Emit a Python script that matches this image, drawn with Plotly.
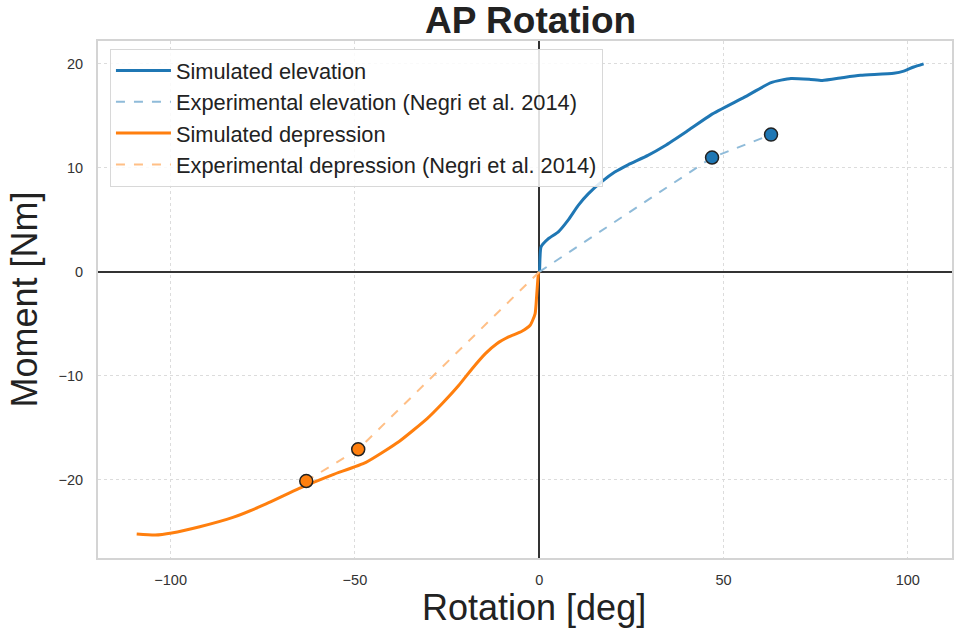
import plotly.graph_objects as go

# Simulated elevation (blue)
elev_x = [0, 0.1, 0.5, 2.5, 5.2, 7.9, 10.6, 13.3, 16.9, 20.5, 24.1, 29.5, 34.0, 40.0, 46.6, 55.7, 62.9, 68.3, 73.7, 76.8, 82.7, 87.2, 96.2, 98.9, 101.6, 104.3]
elev_y = [0, 0.2, 2.4, 3.2, 3.85, 5.0, 6.4, 7.5, 8.65, 9.6, 10.3, 11.2, 12.1, 13.5, 15.1, 16.8, 18.2, 18.6, 18.5, 18.4, 18.7, 18.9, 19.1, 19.3, 19.7, 20.0]

# Simulated depression (orange)
dep_x = [-109.2, -104.2, -99.7, -92.1, -83.1, -74.1, -65.1, -56.1, -47.0, -38.0, -30.4, -26.3, -21.8, -18.2, -14.6, -11.5, -8.3, -4.7, -2.4, -1.1, -0.65, -0.2, 0]
dep_y = [-25.2, -25.3, -25.1, -24.5, -23.6, -22.3, -20.8, -19.5, -18.3, -16.3, -14.1, -12.65, -10.9, -9.3, -7.85, -6.9, -6.25, -5.7, -5.1, -4.0, -2.1, -0.15, 0]

# Experimental (Negri et al. 2014)
exp_elev_x = [0, 46.9, 62.9]
exp_elev_y = [0, 11.0, 13.2]
exp_dep_x = [0, -49.1, -63.2]
exp_dep_y = [0, -17.05, -20.1]

BLUE = "#1f77b4"
ORANGE = "#ff7f0e"
BLUE_L = "#8fbbd9"
ORANGE_L = "#ffbf86"

fig = go.Figure()
fig.add_trace(go.Scatter(x=elev_x, y=elev_y, mode="lines", name="Simulated elevation",
                         line=dict(color=BLUE, width=3, shape="spline", smoothing=0.5), legendgroup="a"))
fig.add_trace(go.Scatter(x=exp_elev_x, y=exp_elev_y, mode="lines", name="Experimental elevation (Negri et al. 2014)",
                         line=dict(color=BLUE_L, width=2, dash="dash"), legendgroup="b"))
fig.add_trace(go.Scatter(x=dep_x, y=dep_y, mode="lines", name="Simulated depression",
                         line=dict(color=ORANGE, width=3, shape="spline", smoothing=0.5), legendgroup="c"))
fig.add_trace(go.Scatter(x=exp_dep_x, y=exp_dep_y, mode="lines", name="Experimental depression (Negri et al. 2014)",
                         line=dict(color=ORANGE_L, width=2, dash="dash"), legendgroup="d"))
fig.add_trace(go.Scatter(x=exp_elev_x[1:], y=exp_elev_y[1:], mode="markers", showlegend=False,
                         marker=dict(color=BLUE, size=13, line=dict(color="#222", width=1.5))))
fig.add_trace(go.Scatter(x=exp_dep_x[1:], y=exp_dep_y[1:], mode="markers", showlegend=False,
                         marker=dict(color=ORANGE, size=13, line=dict(color="#222", width=1.5))))

axis_common = dict(
    showline=True, mirror=True, linecolor="#d4d4d4", linewidth=2,
    showgrid=True, gridcolor="#dcdcdc", griddash="dot", gridwidth=1,
    zeroline=True, zerolinecolor="#333333", zerolinewidth=1.5,
    ticks="", tickfont=dict(size=14.5, color="#333333"),
)

fig.update_layout(
    width=956, height=635,
    margin=dict(l=98, r=2, t=41, b=77),
    paper_bgcolor="white", plot_bgcolor="white",
    font=dict(family="Liberation Sans, Arial, sans-serif", color="#222"),
    title=dict(text="<b>AP Rotation</b>", x=0.555, xanchor="center", y=0.9685, yanchor="middle",
               font=dict(size=37, color="#222")),
    xaxis=dict(range=[-119.7, 112], tickvals=[-100, -50, 0, 50, 100],
               ticktext=["\u2212100", "\u221250", "0", "50", "100"],
               ticklabelstandoff=8,
               **axis_common),
    yaxis=dict(range=[-27.5, 22.2], tickvals=[-20, -10, 0, 10, 20],
               ticktext=["\u221220", "\u221210", "0", "10", "20"],
               ticklabelstandoff=10,
               title=dict(text="Moment [Nm]", font=dict(size=36, color="#222"), standoff=10),
               **axis_common),
    legend=dict(x=0.014, y=0.985, xanchor="left", yanchor="top",
                bgcolor="rgba(255,255,255,0.85)", bordercolor="#d8d8d8", borderwidth=1,
                font=dict(size=21.8, color="#222"), tracegroupgap=0, traceorder="grouped",
                itemwidth=55),
    annotations=[dict(text="Rotation [deg]", xref="paper", yref="paper",
                      x=0.5105, y=(558 - 607) / 517, xanchor="center", yanchor="middle",
                      showarrow=False, font=dict(size=36, color="#222"))],
)

fig.write_html("out.html")
